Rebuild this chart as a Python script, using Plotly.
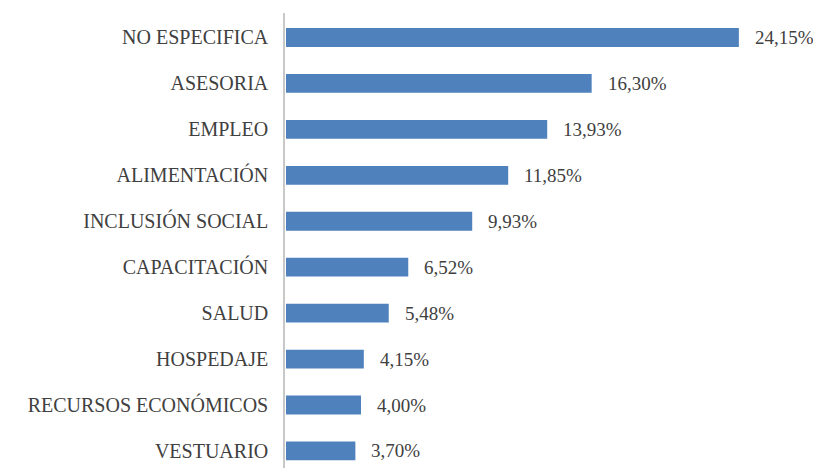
import plotly.graph_objects as go

categories = ["NO ESPECIFICA", "ASESORIA", "EMPLEO", "ALIMENTACIÓN", "INCLUSIÓN SOCIAL",
              "CAPACITACIÓN", "SALUD", "HOSPEDAJE", "RECURSOS ECONÓMICOS", "VESTUARIO"]
values = [24.15, 16.30, 13.93, 11.85, 9.93, 6.52, 5.48, 4.15, 4.00, 3.70]

# bottom-to-top order for plotting
cats_plot = categories[::-1]
vals_plot = values[::-1]
labels_plot = [f"{v:.2f}".replace(".", ",") + "%" for v in vals_plot]

FONT = "Liberation Serif, Times New Roman, serif"
TXT = "#404040"

fig = go.Figure(go.Bar(
    x=vals_plot, y=cats_plot, orientation="h",
    marker=dict(color="#4F81BD", line=dict(width=0)),
    width=0.41, hoverinfo="skip",
))

for c, v, t in zip(cats_plot, vals_plot, labels_plot):
    fig.add_annotation(x=v, y=c, text=t, showarrow=False, xanchor="left",
                       xshift=14, font=dict(family=FONT, size=19, color=TXT))

# page body has an 8px margin, so the figure is 8px smaller and margins shifted
fig.update_layout(
    width=813, height=460,
    margin=dict(l=277, r=0, t=5, b=0),
    paper_bgcolor="white", plot_bgcolor="white",
    showlegend=False,
    xaxis=dict(range=[-0.053, 28.53], visible=False, fixedrange=True),
    yaxis=dict(type="category", range=[-0.371, 9.533], showline=True,
               linecolor="#c8c8c8", linewidth=1.5, showgrid=False, ticks="",
               ticklabelstandoff=11,
               tickfont=dict(family=FONT, size=20, color=TXT)),
)

fig.write_html("out.html")
